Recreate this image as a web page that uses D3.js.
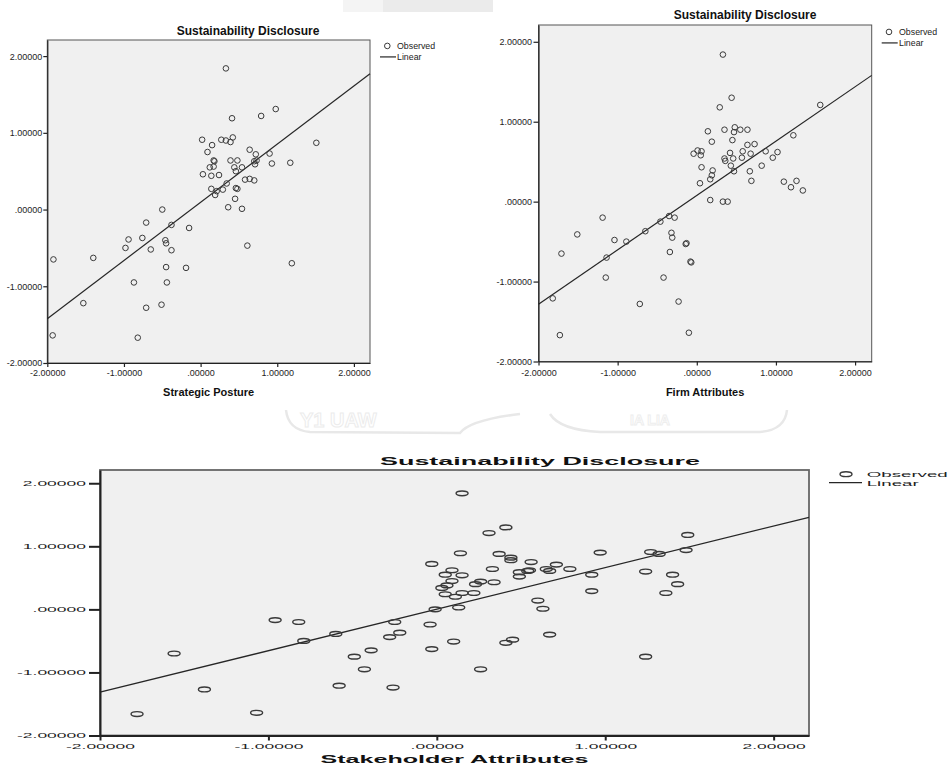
<!DOCTYPE html>
<html>
<head>
<meta charset="utf-8">
<script src="https://cdn.jsdelivr.net/npm/d3@7"></script>
<style>
  body { margin: 0; background: #fff; }
  svg { display: block; font-family: "Liberation Sans", Arial, sans-serif; }
</style>
</head>
<body>
<script>
// ---- data ----
var tickValues = [-2, -1, 0, 1, 2];
var tickLabels = ["-2.00000", "-1.00000", ".00000", "1.00000", "2.00000"];
var titleText = "Sustainability Disclosure";
var legendLabels = ["Observed", "Linear"];

var strategicX = [0.33, 0.98, 0.79, 0.41, 0.42, 0.02, 0.27, 0.33, 0.39, 1.51, 0.15, 0.64, 0.09, 0.72, 0.90, 0.17, 0.18, 0.39, 0.48, 0.70, 0.73, 0.93, 1.17, 0.71, 0.12, 0.17, 0.44, 0.54, 0.46, 0.03, 0.24, 0.14, 0.58, 0.64, 0.70, 0.34, 0.14, 0.29, 0.46, 0.48, 0.21, 0.19, 0.45, 0.36, 0.54, -0.50, -0.71, -0.38, -0.15, -0.94, -0.76, -0.98, -0.46, -0.45, -0.65, -0.38, 0.61, -1.92, -1.40, -0.45, -0.19, 1.19, -0.87, -0.44, -1.53, -0.71, -0.51, -1.93, -0.82];
var strategicY = [1.84, 1.31, 1.22, 1.19, 0.94, 0.91, 0.91, 0.90, 0.88, 0.87, 0.84, 0.78, 0.75, 0.72, 0.73, 0.64, 0.63, 0.64, 0.64, 0.63, 0.64, 0.60, 0.61, 0.59, 0.55, 0.56, 0.55, 0.55, 0.50, 0.46, 0.45, 0.44, 0.39, 0.40, 0.38, 0.34, 0.27, 0.26, 0.28, 0.27, 0.24, 0.19, 0.14, 0.03, 0.01, 0.00, -0.17, -0.20, -0.24, -0.39, -0.37, -0.50, -0.40, -0.44, -0.52, -0.53, -0.47, -0.65, -0.63, -0.75, -0.76, -0.70, -0.95, -0.95, -1.22, -1.28, -1.24, -1.64, -1.67];
var strategicFit = [0.094, 0.758]; // intercept, slope

var firmX = [0.33, 0.44, 0.29, 1.56, 0.14, 0.35, 0.48, 0.47, 0.55, 0.64, 1.22, 0.19, 0.45, 0.64, 0.73, -0.04, 0.01, 0.05, 0.06, 0.42, 0.58, 0.68, 0.87, 1.02, 0.96, 0.35, 0.36, 0.46, 0.57, 0.43, 0.82, 0.06, 0.20, 0.47, 0.67, 0.19, 0.17, 0.69, 0.04, 1.10, 1.26, 1.19, 1.34, 0.17, 0.33, 0.39, -1.19, -0.35, -0.28, -0.46, -0.65, -1.51, -0.32, -0.31, -1.04, -0.89, -0.14, -0.13, -0.34, -1.71, -1.14, -0.08, -0.07, -1.15, -0.42, -1.82, -0.72, -0.23, -1.73, -0.10];
var firmY = [1.84, 1.30, 1.18, 1.21, 0.88, 0.90, 0.93, 0.87, 0.90, 0.90, 0.83, 0.75, 0.77, 0.71, 0.72, 0.60, 0.64, 0.58, 0.63, 0.61, 0.63, 0.60, 0.63, 0.62, 0.55, 0.54, 0.51, 0.54, 0.55, 0.45, 0.45, 0.43, 0.39, 0.38, 0.38, 0.33, 0.28, 0.26, 0.23, 0.25, 0.26, 0.18, 0.14, 0.02, 0.00, 0.00, -0.20, -0.18, -0.20, -0.25, -0.37, -0.41, -0.39, -0.45, -0.48, -0.50, -0.53, -0.52, -0.63, -0.65, -0.70, -0.75, -0.76, -0.95, -0.95, -1.21, -1.28, -1.25, -1.67, -1.64];
var firmFit = [0.077, 0.680];

var stakeX = [0.15, 0.14, -0.03, 0.09, 0.05, 0.15, 0.09, 0.06, 0.03, 0.05, 0.11, 0.15, 0.22, 0.23, 0.26, -0.01, 0.13, -0.25, -0.82, -0.96, -0.60, -0.79, -0.22, -0.28, -0.04, 0.10, -0.03, -0.39, -0.49, -0.43, 0.26, -1.56, -0.58, -0.26, -1.38, -1.07, -1.78, 0.41, 0.31, 1.49, 0.97, 1.27, 1.32, 1.48, 0.37, 0.44, 0.44, 0.56, 0.71, 0.33, 0.49, 0.49, 0.55, 0.54, 0.65, 0.67, 0.79, 0.92, 1.24, 1.40, 1.43, 1.36, 0.92, 0.34, 0.60, 0.63, 0.67, 0.41, 0.45, 1.24];
var stakeY = [1.84, 0.89, 0.72, 0.62, 0.55, 0.54, 0.45, 0.38, 0.34, 0.24, 0.20, 0.26, 0.26, 0.40, 0.44, 0.00, 0.03, -0.20, -0.20, -0.17, -0.39, -0.50, -0.37, -0.44, -0.24, -0.51, -0.63, -0.65, -0.75, -0.95, -0.95, -0.70, -1.21, -1.24, -1.27, -1.64, -1.66, 1.30, 1.21, 1.18, 0.90, 0.91, 0.88, 0.94, 0.88, 0.82, 0.78, 0.75, 0.71, 0.64, 0.59, 0.52, 0.62, 0.61, 0.64, 0.61, 0.64, 0.55, 0.60, 0.55, 0.40, 0.26, 0.29, 0.43, 0.14, 0.01, -0.40, -0.53, -0.48, -0.75];
var stakeFit = [0.004, 0.659];

var domain = [-2, 2.21];

var svg = d3.select("body").append("svg")
  .attr("width", 951)
  .attr("height", 767);

// faint scan watermark bits
svg.append("rect").attr("x", 343).attr("y", 0).attr("width", 150).attr("height", 12).attr("fill", "#ebebeb");
svg.append("rect").attr("x", 343).attr("y", 0).attr("width", 40).attr("height", 12).attr("fill", "#f4f4f4");
svg.append("path")
  .attr("d", "M286,410 Q288,430 310,432 L460,433 Q470,420 520,414 M550,414 Q560,430 600,432 L760,432 Q785,430 787,410")
  .attr("fill", "none").attr("stroke", "#e8e8e8").attr("stroke-width", 2.5);
svg.append("text").attr("x", 300).attr("y", 427).attr("font-size", 20).attr("font-weight", "bold")
  .attr("fill", "none").attr("stroke", "#ececec").attr("stroke-width", 1).text("Y1 UAW");
svg.append("text").attr("x", 630).attr("y", 425).attr("font-size", 14).attr("font-weight", "bold")
  .attr("fill", "none").attr("stroke", "#eeeeee").attr("stroke-width", 1).text("IA LIA");

function stretchText(sel, sx, sy) {
  sel.attr("transform", function() {
    var t = d3.select(this);
    var tx = +t.attr("x") || 0, ty = +t.attr("y") || 0;
    t.attr("x", 0).attr("y", 0);
    return "translate(" + tx + "," + ty + ") scale(" + sx + "," + sy + ")";
  });
}

function drawPanel(c) {
  var x = d3.scaleLinear().domain(domain).range([c.left, c.right]);
  var y = d3.scaleLinear().domain(domain).range([c.bottom, c.top]);
  var g = svg.append("g");

  g.append("rect")
    .attr("x", c.left).attr("y", c.top)
    .attr("width", c.right - c.left).attr("height", c.bottom - c.top)
    .attr("fill", "#f0f0f0")
    .attr("stroke", c.frameColor)
    .attr("stroke-width", c.frameWidth);

  // fit line
  g.append("line")
    .attr("x1", x(domain[0])).attr("y1", y(c.fit[0] + c.fit[1] * domain[0]))
    .attr("x2", x(domain[1])).attr("y2", y(c.fit[0] + c.fit[1] * domain[1]))
    .attr("stroke", "#262626")
    .attr("stroke-width", c.lineWidth);

  // observed points
  g.selectAll("ellipse.pt")
    .data(d3.zip(c.xs, c.ys))
    .enter()
    .append("ellipse")
    .attr("class", "pt")
    .attr("cx", function(d) { return x(d[0]); })
    .attr("cy", function(d) { return y(d[1]); })
    .attr("rx", c.rx)
    .attr("ry", c.ry)
    .attr("fill", "none")
    .attr("stroke", "#3a3a3a")
    .attr("stroke-width", c.markerStroke);

  var yAxis = d3.axisLeft(y)
    .tickValues(tickValues)
    .tickFormat(function(d, i) { return tickLabels[i]; })
    .tickSize(c.yTick).tickSizeOuter(0).tickPadding(c.yPad);
  var xAxis = d3.axisBottom(x)
    .tickValues(tickValues)
    .tickFormat(function(d, i) { return tickLabels[i]; })
    .tickSize(c.xTick).tickSizeOuter(0).tickPadding(c.xPad);

  var ya = g.append("g").attr("transform", "translate(" + c.left + ",0)").call(yAxis);
  var xa = g.append("g").attr("transform", "translate(0," + c.bottom + ")").call(xAxis);
  [ya, xa].forEach(function(a) {
    a.attr("font-family", null).attr("font-size", c.tickFont).attr("color", "#1e1e1e");
    a.selectAll("path, line").attr("stroke", "#222").attr("stroke-width", c.axisWidth);
    stretchText(a.selectAll("text"), c.tickSx, c.tickSy);
  });

  var title = g.append("text")
    .attr("x", c.titleX).attr("y", c.titleY)
    .attr("text-anchor", "middle")
    .attr("font-weight", "bold")
    .attr("font-size", c.titleFont)
    .attr("fill", "#111")
    .text(titleText);
  stretchText(title, c.titleSx, 1);

  var xlab = g.append("text")
    .attr("x", (c.left + c.right) / 2).attr("y", c.xLabelY)
    .attr("text-anchor", "middle")
    .attr("font-weight", "bold")
    .attr("font-size", c.xLabelFont)
    .attr("fill", "#111")
    .text(c.xLabel);
  stretchText(xlab, c.xLabelSx, 1);

  // legend
  var L = c.legend;
  g.append("ellipse")
    .attr("cx", L.x + L.mark).attr("cy", L.y - L.font * 0.35)
    .attr("rx", c.rx).attr("ry", c.ry)
    .attr("fill", "none").attr("stroke", "#3a3a3a").attr("stroke-width", c.markerStroke);
  g.append("line")
    .attr("x1", L.x).attr("x2", L.x + L.lineLen)
    .attr("y1", L.y + L.gap - L.font * 0.35).attr("y2", L.y + L.gap - L.font * 0.35)
    .attr("stroke", "#262626").attr("stroke-width", c.lineWidth);
  g.selectAll("text.leg")
    .data(legendLabels)
    .enter()
    .append("text")
    .attr("class", "leg")
    .attr("x", L.textX)
    .attr("y", function(d, i) { return L.y + i * L.gap; })
    .attr("font-size", L.font)
    .attr("fill", "#222")
    .text(function(d) { return d; })
    .each(function() { stretchText(d3.select(this), L.sx, 1); });
}

drawPanel({
  xs: strategicX, ys: strategicY, fit: strategicFit,
  left: 47.3, right: 370, top: 40, bottom: 363,
  frameColor: "#555", frameWidth: 1, axisWidth: 1.2, lineWidth: 1.2,
  rx: 2.8, ry: 2.8, markerStroke: 1,
  yTick: 4, yPad: 1, xTick: 4, xPad: 3,
  tickFont: 9, tickSx: 1, tickSy: 1,
  titleX: 248, titleY: 34.5, titleFont: 12, titleSx: 1,
  xLabel: "Strategic Posture", xLabelY: 396, xLabelFont: 11, xLabelSx: 1,
  legend: { x: 380, y: 49, gap: 11, mark: 7.3, lineLen: 16, textX: 397, font: 8.8, sx: 1 }
});

drawPanel({
  xs: firmX, ys: firmY, fit: firmFit,
  left: 538.5, right: 871.7, top: 25, bottom: 361.5,
  frameColor: "#555", frameWidth: 1, axisWidth: 1.2, lineWidth: 1.2,
  rx: 2.8, ry: 2.8, markerStroke: 1,
  yTick: 5, yPad: 1.5, xTick: 4, xPad: 4,
  tickFont: 9, tickSx: 1, tickSy: 1,
  titleX: 745, titleY: 19, titleFont: 12, titleSx: 1,
  xLabel: "Firm Attributes", xLabelY: 396, xLabelFont: 11, xLabelSx: 1,
  legend: { x: 881.7, y: 35, gap: 11, mark: 7.3, lineLen: 16, textX: 899, font: 8.8, sx: 1 }
});

drawPanel({
  xs: stakeX, ys: stakeY, fit: stakeFit,
  left: 100, right: 809, top: 470, bottom: 735.5,
  frameColor: "#666", frameWidth: 1.8, axisWidth: 2, lineWidth: 1.3,
  rx: 6, ry: 2.4, markerStroke: 1.4,
  yTick: 11, yPad: 3, xTick: 5, xPad: 3.5,
  tickFont: 7, tickSx: 2.5, tickSy: 1,
  titleX: 540, titleY: 465, titleFont: 11.5, titleSx: 2.34,
  xLabel: "Stakeholder Attributes", xLabelY: 763, xLabelFont: 11, xLabelSx: 2.28,
  legend: { x: 829, y: 477, gap: 8.5, mark: 17, lineLen: 33, textX: 866.7, font: 8, sx: 2.34 }
});
</script>
</body>
</html>
